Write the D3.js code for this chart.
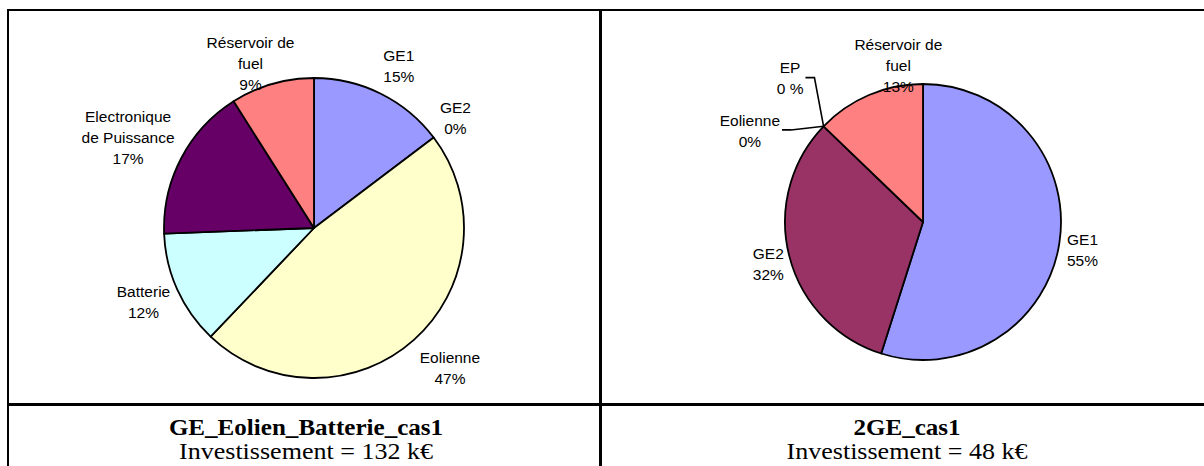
<!DOCTYPE html>
<html>
<head>
<meta charset="utf-8">
<script src="https://cdn.jsdelivr.net/npm/d3@7/dist/d3.min.js"></script>
<style>
  html, body { margin: 0; padding: 0; background: #fff; }
  svg { display: block; }
</style>
</head>
<body>
<svg id="chart" width="1204" height="466"></svg>
<script>
// ---------------- DATA ----------------
const leftCategories = ["GE1", "GE2", "Eolienne", "Batterie", "Electronique\nde Puissance", "Réservoir de\nfuel"];
const leftValues = [14.7, 0, 47.4, 12.3, 16.6, 9.0];
const leftTitle = "GE_Eolien_Batterie_cas1";
const leftInvest = "Investissement = 132 k€";

const rightCategories = ["GE1", "GE2", "Eolienne", "EP", "Réservoir de\nfuel"];
const rightValues = [54.9, 32.3, 0, 0, 12.8];
const rightTitle = "2GE_cas1";
const rightInvest = "Investissement = 48 k€";

// ---------------- STYLE / LAYOUT ----------------
const colorMap = {
  "GE1": "#9999FF", "GE2": "#993366", "Eolienne": "#FFFFCC", "Batterie": "#CCFFFF",
  "Electronique\nde Puissance": "#660066", "EP": "#660066", "Réservoir de\nfuel": "#FF8080"
};
const charts = [
  { cats: leftCategories, vals: leftValues, title: leftTitle, invest: leftInvest,
    cx: 314, cy: 228, r: 150, capX: 306,
    labels: [ {dist:182.7, dAng:1.2}, {dist:179.2, dAng:-0.8}, {dist:195.5, dAng:-2.3},
              {dist:185.8, dAng:0.9}, {dist:206.9, dAng:-1.7}, {dist:176, dAng:-4.95} ] },
  { cats: rightCategories, vals: rightValues, title: rightTitle, invest: rightInvest,
    cx: 923, cy: 222, r: 138, capX: 907,
    labels: [ {dist:161.9, dAng:1.0}, {dist:160.3, dAng:-0.95},
              {dist:195.8, dAng:-16.1, leader:true}, {dist:195.7, dAng:3.3, leader:true, sep:" "},
              {dist:158.8, dAng:14.1} ] }
];

const svg = d3.select("#chart");

// ---------------- TABLE FRAME ----------------
const frame = svg.append("g").attr("stroke", "#000").attr("fill", "none");
frame.append("line").attr("x1", 7).attr("x2", 1204).attr("y1", 10).attr("y2", 10).attr("stroke-width", 2);
frame.append("line").attr("x1", 8).attr("x2", 8).attr("y1", 9).attr("y2", 466).attr("stroke-width", 2);
frame.append("line").attr("x1", 600.5).attr("x2", 600.5).attr("y1", 9).attr("y2", 466).attr("stroke-width", 3);
frame.append("line").attr("x1", 7).attr("x2", 1204).attr("y1", 404.5).attr("y2", 404.5).attr("stroke-width", 3);

// ---------------- PIES ----------------
const lineH = 21;
charts.forEach(c => {
  const data = c.cats.map((k, i) => ({ cat: k, value: c.vals[i] }));
  const pie = d3.pie().sort(null).value(d => d.value).startAngle(0).endAngle(2 * Math.PI);
  const arcs = pie(data);
  const arc = d3.arc().innerRadius(0).outerRadius(c.r);
  const g = svg.append("g").attr("transform", `translate(${c.cx},${c.cy})`);

  g.selectAll("path.slice").data(arcs.filter(a => a.value > 0)).join("path")
    .attr("class", "slice")
    .attr("d", arc)
    .attr("fill", d => colorMap[d.data.cat])
    .attr("stroke", "#000")
    .attr("stroke-width", 1.8)
    .attr("stroke-linejoin", "round");

  arcs.forEach((a, i) => {
    const lay = c.labels[i];
    const mid = (a.startAngle + a.endAngle) / 2;
    const ang = mid + lay.dAng * Math.PI / 180;
    const lx = lay.dist * Math.sin(ang);
    const ly = -lay.dist * Math.cos(ang);
    const pct = Math.round(a.value);
    const lines = a.data.cat.split("\n").concat([pct + (lay.sep || "") + "%"]);
    const t = g.append("g");
    const n = lines.length;
    let maxW = 0;
    lines.forEach((s, j) => {
      const tx = t.append("text")
        .attr("x", lx)
        .attr("y", ly + 5.4 + (j - (n - 1) / 2) * lineH)
        .attr("text-anchor", "middle")
        .attr("font-family", "'Liberation Sans', Arial, sans-serif")
        .attr("font-size", 15.5)
        .attr("fill", "#000")
        .text(s);
      maxW = Math.max(maxW, tx.node().getComputedTextLength());
    });
    if (lay.leader) {
      const p = [c.r * Math.sin(mid), -c.r * Math.cos(mid)];
      const sx = lx + maxW / 2 + 2;
      const sy = ly - 0.7;
      g.append("polyline")
        .attr("points", [[sx, sy], [sx + 9, sy], p].map(q => q.join(",")).join(" "))
        .attr("fill", "none")
        .attr("stroke", "#000")
        .attr("stroke-width", 1.6);
    }
  });

  // captions
  svg.append("text")
    .attr("transform", `translate(${c.capX},435) scale(1.09,1)`)
    .attr("text-anchor", "middle")
    .attr("font-family", "'Liberation Serif', 'Times New Roman', serif")
    .attr("font-weight", "bold")
    .attr("font-size", 23)
    .text(c.title);
  svg.append("text")
    .attr("transform", `translate(${c.capX},459) scale(1.085,1)`)
    .attr("text-anchor", "middle")
    .attr("font-family", "'Liberation Serif', 'Times New Roman', serif")
    .attr("font-size", 24)
    .text(c.invest);
});
</script>
</body>
</html>
